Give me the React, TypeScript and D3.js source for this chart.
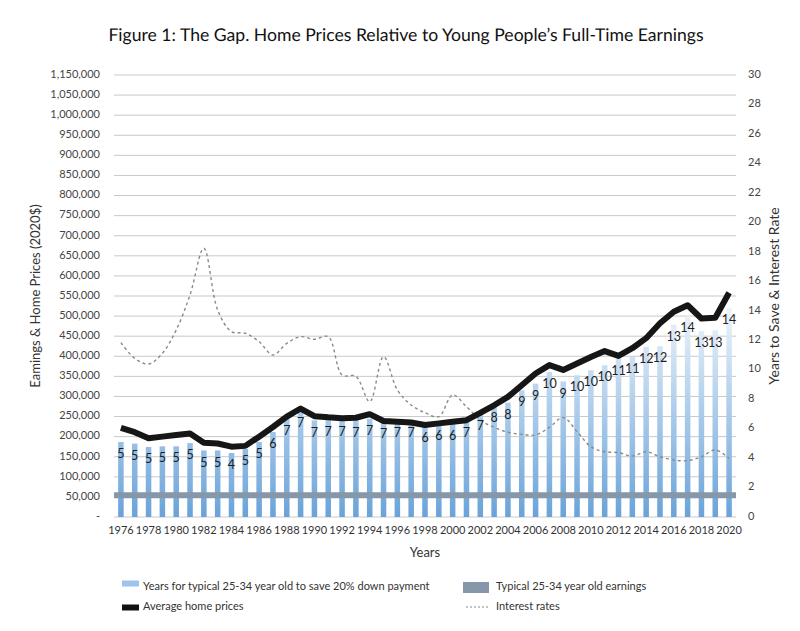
import React from "react";
import * as d3 from "d3";

const years = [1976,1977,1978,1979,1980,1981,1982,1983,1984,1985,1986,1987,1988,1989,1990,1991,1992,1993,1994,1995,1996,1997,1998,1999,2000,2001,2002,2003,2004,2005,2006,2007,2008,2009,2010,2011,2012,2013,2014,2015,2016,2017,2018,2019,2020];

const homePrices = [222000,211000,196000,200000,204000,208000,185000,183000,175000,177000,200000,224000,250000,270000,251000,248000,246000,247000,256000,239000,237000,235000,229000,233000,237000,241000,259000,278000,299000,328000,357000,378000,366000,382000,398000,413000,401000,420000,445000,482000,511000,527000,494000,496000,558000];

const yearsToSave = [5.09,4.98,4.75,4.8,4.8,5.02,4.52,4.52,4.34,4.62,5.09,5.77,6.67,7.24,6.56,6.6,6.6,6.56,6.67,6.45,6.52,6.56,6.22,6.29,6.33,6.5,6.97,7.55,7.76,8.6,9.05,9.84,9.2,9.62,9.96,10.3,10.74,10.86,11.55,11.59,13.05,13.64,12.62,12.67,14.2];

const yearsLabels = [5,5,5,5,5,5,5,5,4,5,5,6,7,7,7,7,7,7,7,7,7,7,6,6,6,7,7,8,8,9,9,10,9,10,10,10,11,11,12,12,13,14,13,13,14];

const interestRates = [11.83,10.77,10.38,11.11,12.69,15.07,18.24,14.05,12.58,12.47,11.9,11.0,11.79,12.24,12.06,12.24,9.64,9.55,7.83,10.88,8.62,7.6,7.08,6.81,8.28,7.49,6.58,6.09,5.75,5.61,5.57,6.09,6.75,5.8,4.77,4.43,4.37,4.14,4.43,4.09,3.87,3.82,4.09,4.55,3.98];

const earnings = [54000,54000,54000,54000,54000,54000,54000,54000,54000,54000,54000,54000,54000,54000,54000,54000,54000,54000,54000,54000,54000,54000,54000,54000,54000,54000,54000,54000,54000,54000,54000,54000,54000,54000,54000,54000,54000,54000,54000,54000,54000,54000,54000,54000,54000];

const leftTickValues = [0,50000,100000,150000,200000,250000,300000,350000,400000,450000,500000,550000,600000,650000,700000,750000,800000,850000,900000,950000,1000000,1050000,1100000];
const leftTickLabels = ["-","50,000","100,000","150,000","200,000","250,000","300,000","350,000","400,000","450,000","500,000","550,000","600,000","650,000","700,000","750,000","800,000","850,000","900,000","950,000","1,000,000","1,050,000","1,150,000"];
const rightTicks = [0,2,4,6,8,10,12,14,16,18,20,22,24,26,28,30];
const xTickYears = [1976,1978,1980,1982,1984,1986,1988,1990,1992,1994,1996,1998,2000,2002,2004,2006,2008,2010,2012,2014,2016,2018,2020];

const title = "Figure 1: The Gap. Home Prices Relative to Young People\u2019s Full-Time Earnings";
const legendItems = [
  "Years for typical 25-34 year old to save 20% down payment",
  "Typical 25-34 year old earnings",
  "Average home prices",
  "Interest rates",
];

const FONT = "Lato, 'Open Sans', 'DejaVu Sans', sans-serif";

export default function App() {
  const left = 114, right = 736, top = 75, bottom = 517;
  const x = d3.scaleBand<number>().domain(years).range([left, right]).padding(0);
  const step = x.step();
  const cx = (yr: number) => (x(yr) as number) + step / 2;
  const barW = step * 0.4;
  const yL = d3.scaleLinear().domain([0, 1100000]).range([bottom, top]);
  const yR = d3.scaleLinear().domain([0, 30]).range([bottom, top]);

  const homeLine = d3.line<number>()
    .x((_, i) => cx(years[i]))
    .y((d) => yL(d))(homePrices) as string;

  const rateLine = d3.line<number>()
    .x((_, i) => cx(years[i]))
    .y((d) => yR(d))
    .curve(d3.curveCatmullRom.alpha(0.5))(interestRates) as string;

  const earnPts: [number, number][] = [];
  years.forEach((yr, i) => {
    earnPts.push([x(yr) as number, yL(earnings[i])]);
    earnPts.push([(x(yr) as number) + step, yL(earnings[i])]);
  });
  const earnLine = d3.line()(earnPts) as string;

  return (
    <svg width={800} height={631} style={{ position: "absolute", left: 0, top: 0, background: "#fff" }} fontFamily={FONT}>
      <defs>
        <linearGradient id="barGrad" gradientUnits="userSpaceOnUse" x1="0" y1={bottom} x2="0" y2={yR(14.5)}>
          <stop offset="0" stopColor="#6aa3d9" />
          <stop offset="1" stopColor="#f0f6fc" />
        </linearGradient>
      </defs>
      <rect x={0} y={0} width={800} height={631} fill="#fff" />
      <text x={406} y={37} textAnchor="middle" dominantBaseline="middle" fontSize={17.6} fontWeight={400} fill="#111" style={{ textRendering: "geometricPrecision" }}>{title}</text>

      {leftTickValues.map((v) => (
        <line key={"g" + v} x1={left} x2={right} y1={yL(v)} y2={yL(v)} stroke="#c9c9c9" strokeWidth={1} />
      ))}

      {leftTickValues.map((v, i) => (
        <text key={"l" + v} x={100} y={yL(v)} textAnchor="end" dominantBaseline="middle" fontSize={11} fill="#444">{leftTickLabels[i]}</text>
      ))}
      {rightTicks.map((v) => (
        <text key={"r" + v} x={748} y={yR(v)} textAnchor="start" dominantBaseline="middle" fontSize={11} fill="#444">{v}</text>
      ))}

      {years.map((yr, i) => (
        <rect key={"b" + yr} x={cx(yr) - barW / 2} y={yR(yearsToSave[i])} width={barW} height={bottom - yR(yearsToSave[i])} fill="url(#barGrad)" />
      ))}

      <path d={earnLine} fill="none" stroke="#8597a9" strokeWidth={6} />

      <path d={rateLine} fill="none" stroke="#8a8a8a" strokeWidth={1.4} strokeDasharray="3,3" />

      <path d={homeLine} fill="none" stroke="#161616" strokeWidth={6} strokeLinejoin="round" />

      {years.map((yr, i) => (
        <text key={"t" + yr} x={cx(yr)} y={yR(yearsToSave[i]) + 13} textAnchor="middle" dominantBaseline="middle" fontSize={12.5} fill="#1e1e1e">{yearsLabels[i]}</text>
      ))}

      {xTickYears.map((yr) => (
        <text key={"x" + yr} x={cx(yr)} y={531} textAnchor="middle" dominantBaseline="middle" fontSize={11} fill="#333">{yr}</text>
      ))}
      <text x={425} y={554} textAnchor="middle" dominantBaseline="middle" fontSize={13} fill="#333">Years</text>

      <text transform={`translate(37,${(top + bottom) / 2}) rotate(-90)`} textAnchor="middle" dominantBaseline="middle" fontSize={13} fill="#333">Eamings &amp; Home Prices (2020$)</text>
      <text transform={`translate(775,${(top + bottom) / 2}) rotate(-90)`} textAnchor="middle" dominantBaseline="middle" fontSize={14} fill="#333">Years to Save &amp; Interest Rate</text>

      <rect x={122} y={580.5} width={17} height={6} fill="#9dc4ea" />
      <text x={143} y={587} dominantBaseline="middle" fontSize={11} fill="#333">{legendItems[0]}</text>
      <rect x={463} y={582} width={26} height={11} fill="#8597a9" />
      <text x={496} y={587} dominantBaseline="middle" fontSize={11} fill="#333">{legendItems[1]}</text>
      <rect x={122} y={604.5} width={17} height={6} fill="#111" />
      <text x={143} y={607.5} dominantBaseline="middle" fontSize={11} fill="#333">{legendItems[2]}</text>
      <line x1={466} x2={490} y1={607} y2={607} stroke="#888" strokeWidth={1} strokeDasharray="2,2" />
      <text x={496} y={607.5} dominantBaseline="middle" fontSize={11} fill="#333">{legendItems[3]}</text>
    </svg>
  );
}
